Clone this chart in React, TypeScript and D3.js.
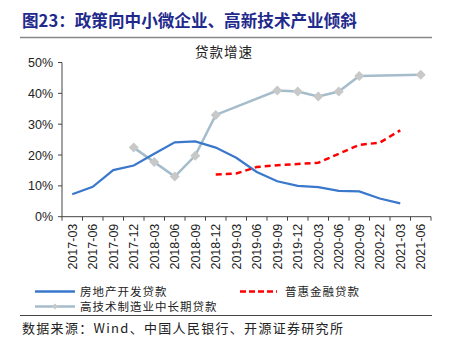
import React from "react";
import * as d3 from "d3";

const categories = ["2017-03","2017-06","2017-09","2017-12","2018-03","2018-06","2018-09","2018-12","2019-03","2019-06","2019-09","2019-12","2020-03","2020-06","2020-09","2020-22","2021-03","2021-06"];
const realEstate: (number | null)[] = [7.3, 9.7, 15.1, 16.6, 20.4, 24.1, 24.4, 22.4, 19.1, 14.5, 11.5, 10.0, 9.6, 8.4, 8.2, 5.9, 4.3, null];
const inclusive: (number | null)[] = [null, null, null, null, null, null, null, 13.7, 14.0, 16.1, 16.7, 17.1, 17.5, 20.4, 23.3, 24.0, 28.0, null];
const hiTech: (number | null)[] = [null, null, null, 22.4, 17.7, 13.0, 19.8, 33.0, null, null, 40.9, 40.6, 39.0, 40.6, 45.6, null, null, 46.0];
const yTicks = [0, 10, 20, 30, 40, 50];

const W = 450, H = 343;
const left = 62, right = 431, top = 62.5, bottom = 216.7;

export default function App() {
  const x = d3.scaleBand().domain(categories).range([left, right]);
  const y = d3.scaleLinear().domain([0, 50]).range([bottom, top]);
  const cx = (c: string) => (x(c) as number) + x.bandwidth() / 2;
  const pts = (arr: (number | null)[]) =>
    arr.map((v, i) => ({ c: categories[i], v })).filter((d) => d.v !== null) as { c: string; v: number }[];
  const line = d3.line<{ c: string; v: number }>().x((d) => cx(d.c)).y((d) => y(d.v));
  const cjk = "'Noto Sans CJK SC', sans-serif";
  const latin = "'Liberation Sans', Arial, sans-serif";
  const diamond = (px: number, py: number, r: number) =>
    `M${px},${py - r}L${px + r},${py}L${px},${py + r}L${px - r},${py}Z`;
  const boundaries = d3.range(categories.length + 1).map((i) => left + i * x.step());

  return (
    <svg width={W} height={H} style={{ position: "absolute", left: 0, top: 0, background: "#fff" }}>
      <text x={22} y={27} fontFamily={cjk} fontWeight="bold" fontSize={16.6} fill="#1f2a8c">图23：政策向中小微企业、高新技术产业倾斜</text>
      <line x1={20} x2={432} y1={37.5} y2={37.5} stroke="#888" strokeWidth={1.5} />
      <text x={224} y={57} textAnchor="middle" fontFamily={cjk} fontSize={13.5} letterSpacing={1} fill="#222">贷款增速</text>

      {/* y axis */}
      <line x1={left} x2={left} y1={top} y2={bottom} stroke="#444" strokeWidth={1} />
      {yTicks.map((t) => (
        <g key={t}>
          <line x1={left - 4} x2={left} y1={y(t)} y2={y(t)} stroke="#444" />
          <text x={53} y={y(t) + 4.5} textAnchor="end" fontFamily={latin} fontSize={12.5} fill="#222">{t}%</text>
        </g>
      ))}
      {/* x axis */}
      <line x1={left} x2={right} y1={bottom} y2={bottom} stroke="#444" />
      {boundaries.map((b, i) => (
        <line key={i} x1={b} x2={b} y1={bottom} y2={bottom + 4} stroke="#444" />
      ))}
      {categories.map((c) => (
        <text key={c} transform={`translate(${cx(c) + 4.5},${bottom + 7}) rotate(-90)`} textAnchor="end" fontFamily={latin} fontSize={12.5} fill="#222">{c}</text>
      ))}

      {/* series */}
      <path d={line(pts(hiTech)) || ""} fill="none" stroke="#a5bccb" strokeWidth={2.5} />
      {pts(hiTech).map((d) => (
        <path key={d.c} d={diamond(cx(d.c), y(d.v), 5)} fill="#c8c8c8" />
      ))}
      <path d={line(pts(realEstate)) || ""} fill="none" stroke="#3a78cc" strokeWidth={2.2} />
      <path d={line(pts(inclusive)) || ""} fill="none" stroke="#ff0000" strokeWidth={2.5} strokeDasharray="6,4" />

      {/* legend */}
      <line x1={35} x2={75} y1={291.5} y2={291.5} stroke="#3a78cc" strokeWidth={2.5} />
      <text x={80} y={295.5} fontFamily={cjk} fontSize={11.5} letterSpacing={1} fill="#222">房地产开发贷款</text>
      <line x1={240} x2={277} y1={291.5} y2={291.5} stroke="#ff0000" strokeWidth={2.5} strokeDasharray="6,3" />
      <text x={285} y={295.5} fontFamily={cjk} fontSize={11.5} letterSpacing={1} fill="#222">普惠金融贷款</text>
      <line x1={35} x2={75} y1={306.5} y2={306.5} stroke="#a5bccb" strokeWidth={2.5} />
      <path d={diamond(55, 306.5, 3)} fill="#c8c8c8" />
      <text x={80} y={310.5} fontFamily={cjk} fontSize={11.5} letterSpacing={1} fill="#222">高技术制造业中长期贷款</text>

      <line x1={20} x2={432} y1={315.5} y2={315.5} stroke="#444" strokeWidth={1} />
      <text x={22} y={333} fontFamily={cjk} fontSize={13} letterSpacing={1.3} fill="#222">数据来源：Wind、中国人民银行、开源证券研究所</text>
    </svg>
  );
}
